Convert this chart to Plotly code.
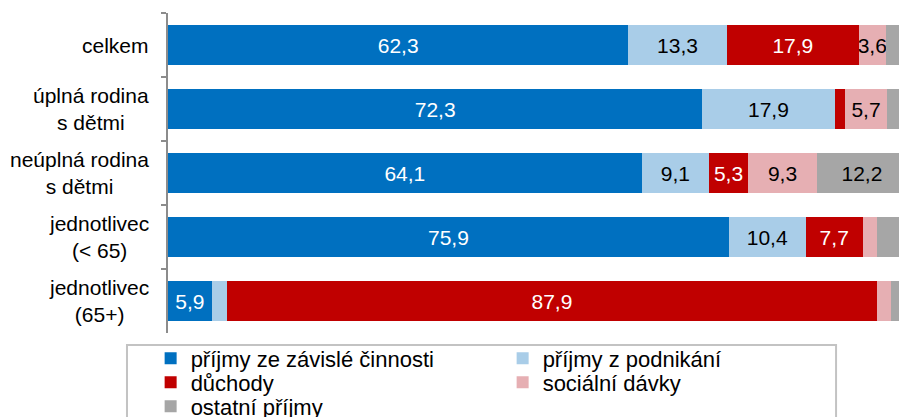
import plotly.graph_objects as go

categories = ["celkem", "úplná rodina<br>s dětmi", "neúplná rodina<br>s dětmi",
              "jednotlivec<br>(< 65)", "jednotlivec<br>(65+)"]
series_names = ["příjmy ze závislé činnosti", "příjmy z podnikání", "důchody",
                "sociální dávky", "ostatní příjmy"]
zavisla = [62.3, 72.3, 64.1, 75.9, 5.9]
podnikani = [13.3, 17.9, 9.1, 10.4, 2.1]
duchody = [17.9, 1.4, 5.3, 7.7, 87.9]
socialni = [3.6, 5.7, 9.3, 1.9, 1.9]
ostatni = [2.9, 2.7, 12.2, 4.1, 2.2]

colors = ["#0070C0", "#A9CDE8", "#C00000", "#E6AFB3", "#A6A6A6"]
text_colors = ["white", "black", "white", "black", "black"]
legend_rows = ["legend", "legend", "legend2", "legend2", "legend3"]
FONT = "Arial, Liberation Sans, sans-serif"

# the page body has an 8px margin, so the figure is 8px smaller than the window
W, H = 899, 409

fig = go.Figure()
for name, vals, col, tcol, leg in zip(series_names,
                                      [zavisla, podnikani, duchody, socialni, ostatni],
                                      colors, text_colors, legend_rows):
    labels = [f"{v:.1f}".replace(".", ",") if v >= 3 else "" for v in vals]
    fig.add_trace(go.Bar(
        y=categories, x=vals, name=name, orientation="h", legend=leg,
        marker=dict(color=col, line=dict(width=0)),
        text=labels, textposition="inside", insidetextanchor="middle",
        constraintext="none", textangle=0,
        textfont=dict(color=tcol, size=21, family=FONT),
        cliponaxis=False,
    ))

# category labels: lines centred, block right-aligned next to the axis
for cat in categories:
    fig.add_annotation(
        x=-0.023, xref="paper", y=cat, yref="y",
        text=cat, showarrow=False, xanchor="right", align="center",
        font=dict(size=21, color="black", family=FONT),
    )

# legend frame (runs past the bottom edge, like the original)
fig.add_shape(type="rect", xref="paper", yref="paper",
              x0=-0.0555, x1=0.904, y0=-0.0375, y1=-0.30,
              line=dict(color="#C3C3C3", width=2), fillcolor="rgba(0,0,0,0)",
              layer="above")

leg_common = dict(orientation="h", x=-0.0235, xanchor="left", yanchor="middle",
                  bgcolor="rgba(0,0,0,0)", borderwidth=0,
                  entrywidth=307, entrywidthmode="pixels",
                  font=dict(size=22, family=FONT, color="black"),
                  traceorder="normal")

fig.update_layout(
    barmode="stack", bargap=0.39,
    width=W, height=H,
    margin=dict(l=160, r=0, t=5, b=84, autoexpand=False),
    paper_bgcolor="white", plot_bgcolor="white",
    font=dict(family=FONT, color="black"),
    xaxis=dict(range=[0, 100], visible=False, fixedrange=True),
    yaxis=dict(autorange="reversed", showticklabels=False,
               showline=True, linecolor="#8C8C8C", linewidth=1.5,
               ticks="outside", tickson="boundaries", ticklen=5,
               tickcolor="#8C8C8C", tickwidth=1.5, showgrid=False),
    showlegend=True,
    legend=dict(y=-0.0797, **leg_common),
    legend2=dict(y=-0.1547, **leg_common),
    legend3=dict(y=-0.2297, **leg_common),
)

fig.write_html("out.html")
